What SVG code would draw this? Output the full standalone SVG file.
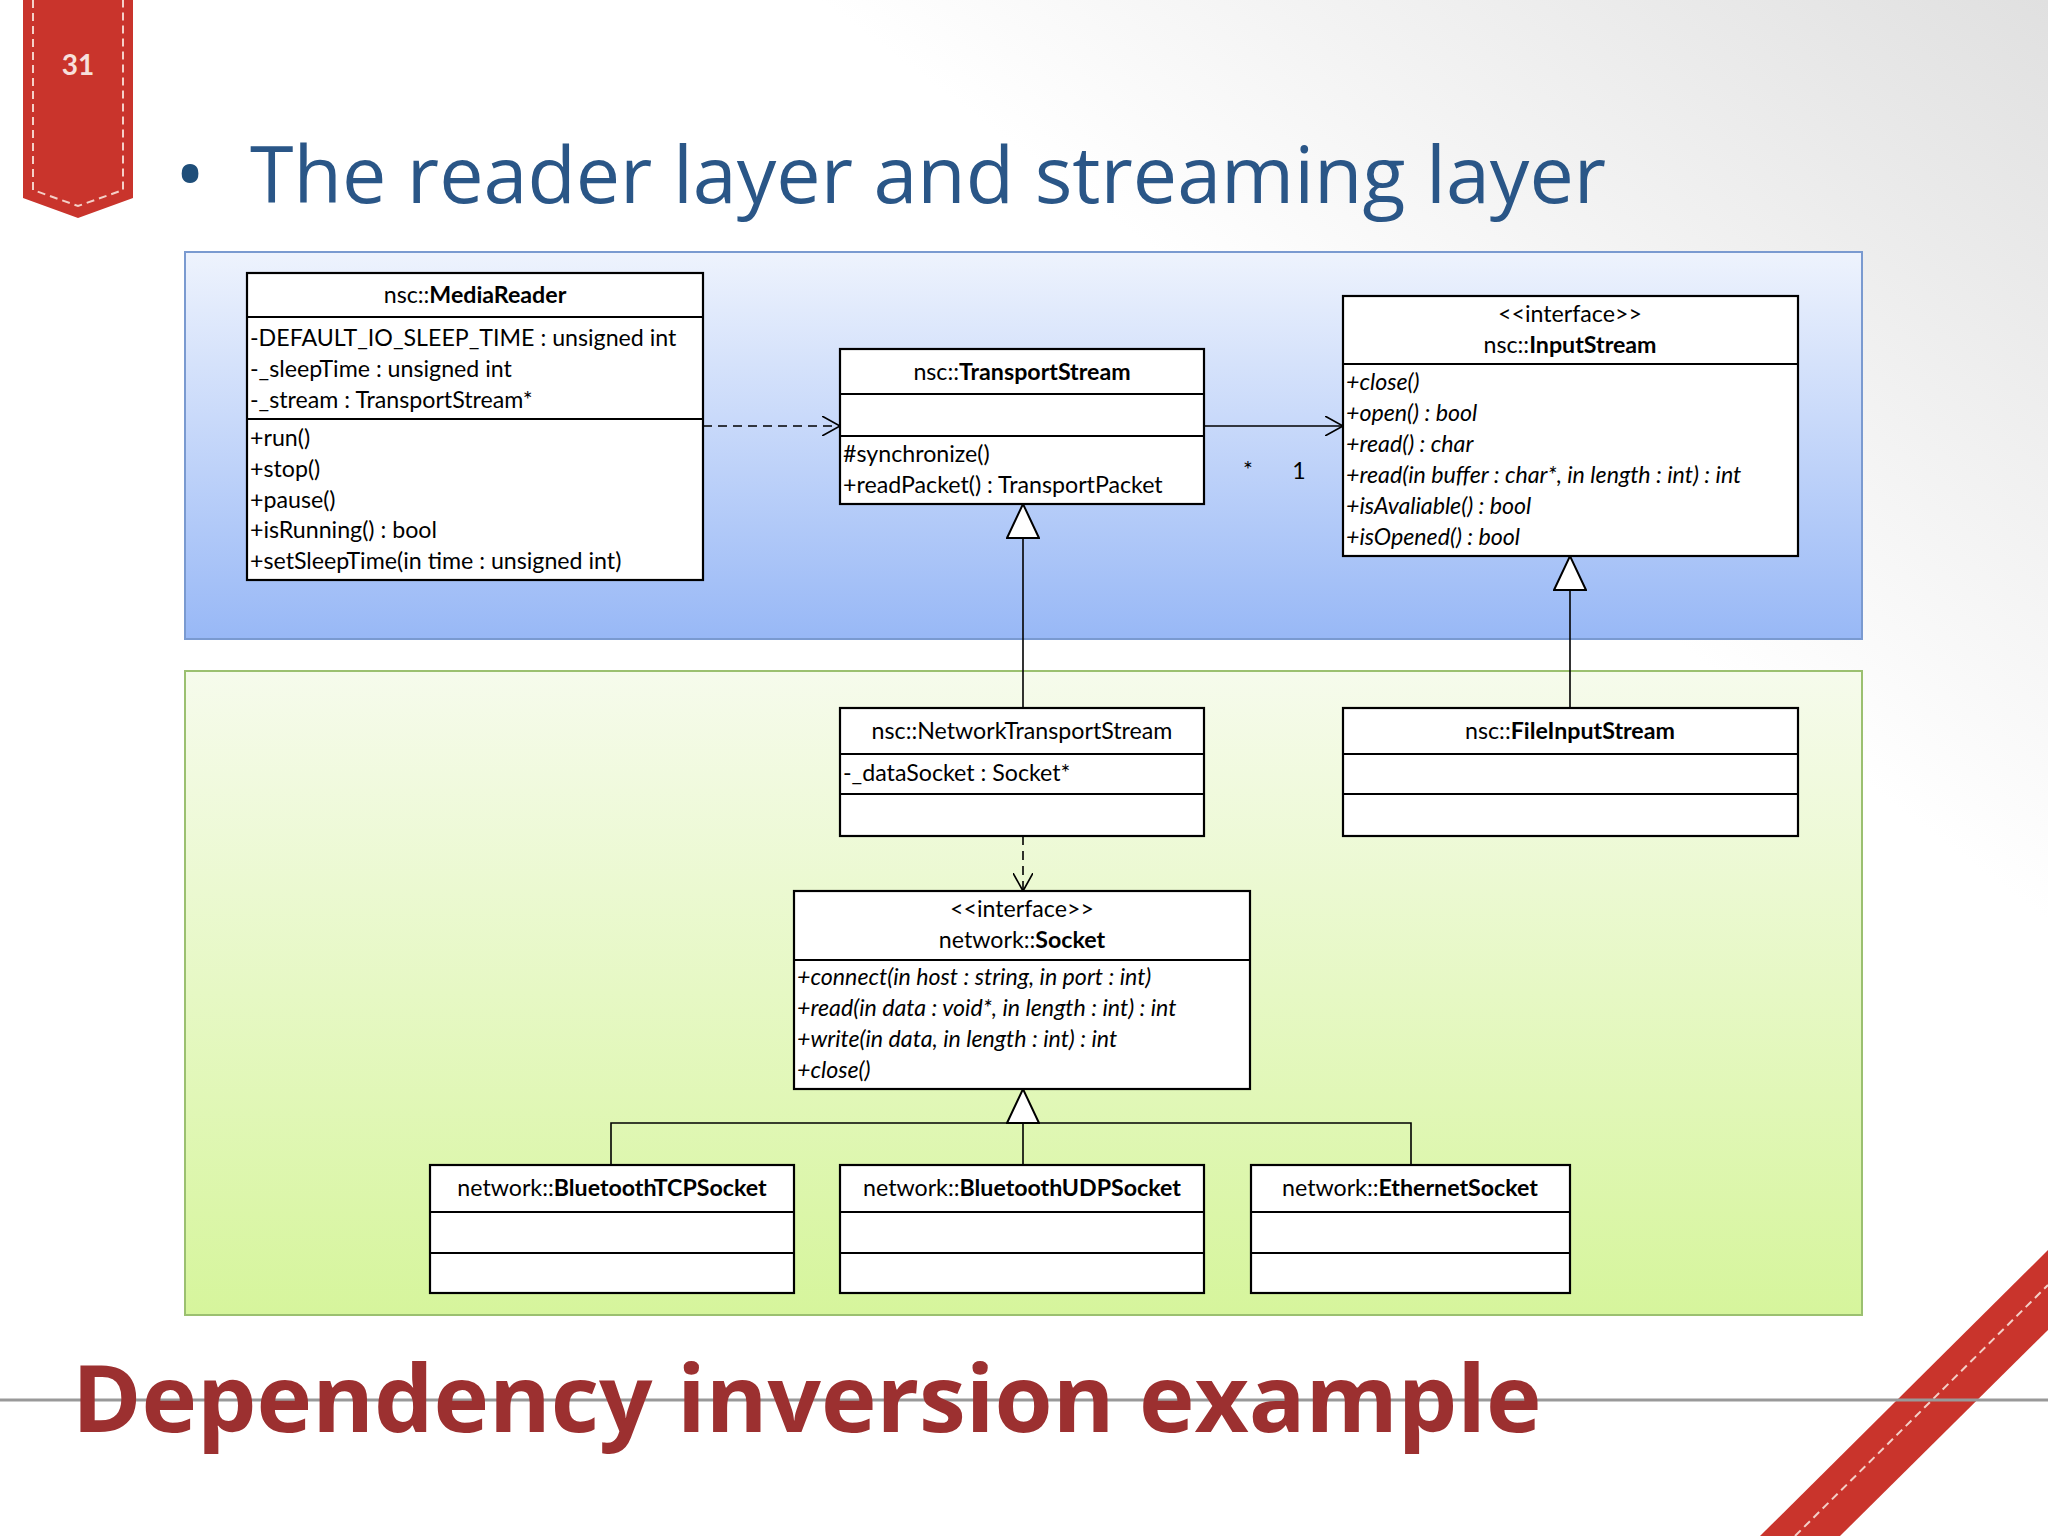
<svg xmlns="http://www.w3.org/2000/svg" width="2048" height="1536" viewBox="0 0 2048 1536">
<defs>
<linearGradient id="bg" x1="1" y1="0" x2="0.7" y2="0.3"><stop offset="0" stop-color="#e0e0e0"/><stop offset="1" stop-color="#ffffff"/></linearGradient>
<linearGradient id="blue" x1="0" y1="0" x2="0" y2="1"><stop offset="0" stop-color="#eef3fd"/><stop offset="1" stop-color="#98b8f6"/></linearGradient>
<linearGradient id="green" x1="0" y1="0" x2="0" y2="1"><stop offset="0" stop-color="#f6fbec"/><stop offset="1" stop-color="#d6f59c"/></linearGradient>
<marker id="open" markerWidth="20" markerHeight="20" refX="18" refY="10" orient="auto" markerUnits="userSpaceOnUse"><path d="M0,0 L18,10 L0,20" fill="none" stroke="#000" stroke-width="1.6"/></marker>
<marker id="tri" markerWidth="40" markerHeight="34" refX="36" refY="17" orient="auto" markerUnits="userSpaceOnUse"><path d="M2,1 L36,17 L2,33 Z" fill="#fff" stroke="#000" stroke-width="2"/></marker>
</defs>
<style>
.box{fill:#fff;stroke:#000;stroke-width:2.2}
.ln{stroke:#000;stroke-width:2.2;fill:none}
.t{font-family:Lato,"Open Sans",sans-serif;font-size:23.2px;fill:#000}
.c{text-anchor:middle}
.i{font-style:italic}
.b{font-weight:bold}
.con{stroke:#000;stroke-width:1.6;fill:none}
.dash{stroke-dasharray:9,6}
</style>
<rect width="2048" height="1536" fill="url(#bg)"/>
<path d="M23,0 H133 V198 L78,218 L23,198 Z" fill="#c9342c"/>
<path d="M33,0 V190 L78,206 L123,190 V0" fill="none" stroke="#f4d0c8" stroke-width="2" stroke-dasharray="8,5"/>
<text x="78" y="75" class="t b c" style="font-size:28px;fill:#f7e0dc">31</text>
<path d="M1760,1536 L2048,1250 V1330 L1840,1536 Z" fill="#c9342c"/>
<path d="M1795,1536 L2048,1285" fill="none" stroke="#f4d0c8" stroke-width="2" stroke-dasharray="8,5"/>
<text x="175" y="203" style="font-family:'Open Sans',Lato,sans-serif;font-size:80px;fill:#1f4e79">•</text>
<text x="250" y="203" style="font-family:'Open Sans',Lato,sans-serif;font-size:79px;fill:#2a5687">The reader layer and streaming layer</text>
<rect x="185" y="252" width="1677" height="387" fill="url(#blue)" stroke="#7a9ad0" stroke-width="2"/>
<rect x="185" y="671" width="1677" height="644" fill="url(#green)" stroke="#9bc070" stroke-width="2"/>
<line x1="0" y1="1400" x2="2048" y2="1400" stroke="#999" stroke-width="3"/>
<text x="72" y="1432" class="b" style="font-family:'Open Sans',Lato,sans-serif;font-size:94px;fill:#9c3030">Dependency inversion example</text>

<g id="connectors">
<line x1="703" y1="426" x2="840" y2="426" class="con dash" marker-end="url(#open)"/>
<line x1="1204" y1="426" x2="1343" y2="426" class="con" marker-end="url(#open)"/>
<text x="1248" y="478" class="t c">*</text>
<text x="1299" y="479" class="t c">1</text>
<line x1="1023" y1="708" x2="1023" y2="504" class="con" marker-end="url(#tri)"/>
<line x1="1570" y1="708" x2="1570" y2="556" class="con" marker-end="url(#tri)"/>
<line x1="1023" y1="836" x2="1023" y2="891" class="con dash" marker-end="url(#open)"/>
<line x1="1023" y1="1123" x2="1023" y2="1089" class="con" marker-end="url(#tri)"/>
<path d="M611,1165 V1123 H1411 V1165 M1023,1123 V1165" class="con"/>
</g>

<g id="MediaReader">
<rect x="247" y="273" width="456" height="307" class="box"/>
<path d="M247,317 H703 M247,419 H703" class="ln"/>
<text x="475" y="303" class="t c">nsc::<tspan class="b">MediaReader</tspan></text>
<text x="250" y="346" class="t">-DEFAULT_IO_SLEEP_TIME : unsigned int</text>
<text x="250" y="377" class="t">-_sleepTime : unsigned int</text>
<text x="250" y="408" class="t">-_stream : TransportStream*</text>
<text x="250" y="446" class="t">+run()</text>
<text x="250" y="477" class="t">+stop()</text>
<text x="250" y="508" class="t">+pause()</text>
<text x="250" y="538" class="t">+isRunning() : bool</text>
<text x="250" y="569" class="t">+setSleepTime(in time : unsigned int)</text>
</g>

<g id="TransportStream">
<rect x="840" y="349" width="364" height="155" class="box"/>
<path d="M840,394 H1204 M840,436 H1204" class="ln"/>
<text x="1022" y="380" class="t c">nsc::<tspan class="b">TransportStream</tspan></text>
<text x="843" y="462" class="t">#synchronize()</text>
<text x="843" y="493" class="t">+readPacket() : TransportPacket</text>
</g>

<g id="InputStream">
<rect x="1343" y="296" width="455" height="260" class="box"/>
<path d="M1343,364 H1798" class="ln"/>
<text x="1570" y="322" class="t c">&lt;&lt;interface&gt;&gt;</text>
<text x="1570" y="353" class="t c">nsc::<tspan class="b">InputStream</tspan></text>
<text x="1346" y="390" class="t i">+close()</text>
<text x="1346" y="421" class="t i">+open() : bool</text>
<text x="1346" y="452" class="t i">+read() : char</text>
<text x="1346" y="483" class="t i">+read(in buffer : char*, in length : int) : int</text>
<text x="1346" y="514" class="t i">+isAvaliable() : bool</text>
<text x="1346" y="545" class="t i">+isOpened() : bool</text>
</g>

<g id="NetworkTransportStream">
<rect x="840" y="708" width="364" height="128" class="box"/>
<path d="M840,754 H1204 M840,794 H1204" class="ln"/>
<text x="1022" y="739" class="t c">nsc::NetworkTransportStream</text>
<text x="843" y="781" class="t">-_dataSocket : Socket*</text>
</g>

<g id="FileInputStream">
<rect x="1343" y="708" width="455" height="128" class="box"/>
<path d="M1343,754 H1798 M1343,794 H1798" class="ln"/>
<text x="1570" y="739" class="t c">nsc::<tspan class="b">FileInputStream</tspan></text>
</g>

<g id="Socket">
<rect x="794" y="891" width="456" height="198" class="box"/>
<path d="M794,960 H1250" class="ln"/>
<text x="1022" y="917" class="t c">&lt;&lt;interface&gt;&gt;</text>
<text x="1022" y="948" class="t c">network::<tspan class="b">Socket</tspan></text>
<text x="797" y="985" class="t i">+connect(in host : string, in port : int)</text>
<text x="797" y="1016" class="t i">+read(in data : void*, in length : int) : int</text>
<text x="797" y="1047" class="t i">+write(in data, in length : int) : int</text>
<text x="797" y="1078" class="t i">+close()</text>
</g>

<g id="BluetoothTCPSocket">
<rect x="430" y="1165" width="364" height="128" class="box"/>
<path d="M430,1212 H794 M430,1253 H794" class="ln"/>
<text x="612" y="1196" class="t c">network::<tspan class="b">BluetoothTCPSocket</tspan></text>
</g>
<g id="BluetoothUDPSocket">
<rect x="840" y="1165" width="364" height="128" class="box"/>
<path d="M840,1212 H1204 M840,1253 H1204" class="ln"/>
<text x="1022" y="1196" class="t c">network::<tspan class="b">BluetoothUDPSocket</tspan></text>
</g>
<g id="EthernetSocket">
<rect x="1251" y="1165" width="319" height="128" class="box"/>
<path d="M1251,1212 H1570 M1251,1253 H1570" class="ln"/>
<text x="1410" y="1196" class="t c">network::<tspan class="b">EthernetSocket</tspan></text>
</g>
</svg>
